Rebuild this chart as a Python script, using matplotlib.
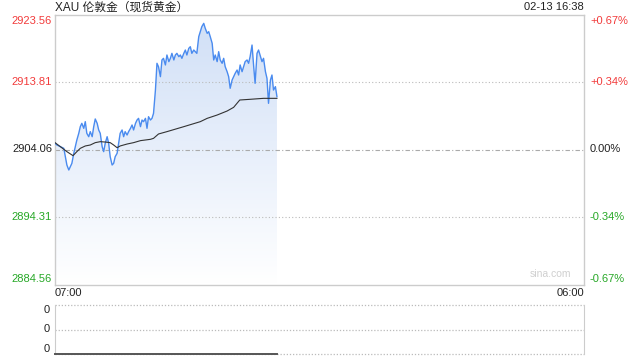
import matplotlib
matplotlib.use("Agg")
import matplotlib.pyplot as plt
import numpy as np
from matplotlib.patches import Polygon

plt.rcParams['font.family'] = ['Liberation Sans', 'Noto Sans CJK SC', 'DejaVu Sans']

# ---- data (minutes after 07:00) ----
price_min = [0, 5, 14, 23, 27, 31, 36, 40, 44, 49, 53, 57, 62, 66, 70, 75, 79, 83, 88, 92,
             97, 101, 105, 110, 114, 118, 123, 127, 131, 136, 140, 144, 149, 153, 157, 162,
             166, 170, 175, 179, 183, 188, 192, 197, 201, 205, 210, 214, 218, 223, 227, 231,
             236, 240, 244, 249, 253, 257, 262, 266, 270, 275, 279, 283, 288, 292, 297, 301,
             305, 310, 314, 318, 323, 327, 331, 336, 340, 344, 349, 353, 357, 362, 366, 370,
             375, 379, 383, 388, 392, 397, 401, 405, 410, 414, 418, 423, 427, 431, 436, 440,
             444, 449, 453, 457, 462, 466, 470, 475, 479, 483, 488, 492, 496, 501, 505, 509,
             514, 518, 522, 527, 531, 536, 540, 544, 549, 553, 557, 562, 566, 570, 575, 579]
price = [2904.95, 2904.71, 2904.47, 2904.23, 2903.02, 2901.82, 2901.10, 2901.58, 2902.06, 2903.51,
         2904.47, 2905.43, 2906.40, 2907.36, 2907.84, 2907.12, 2908.08, 2906.40, 2905.91, 2906.64,
         2905.91, 2907.36, 2908.47, 2907.84, 2906.88, 2906.40, 2904.47, 2903.75, 2904.95, 2905.91,
         2904.95, 2903.02, 2901.82, 2902.06, 2903.02, 2903.51, 2904.95, 2906.40, 2906.88, 2905.91,
         2906.64, 2906.15, 2906.64, 2907.12, 2907.60, 2906.88, 2907.84, 2908.32, 2908.56, 2907.36,
         2908.32, 2908.08, 2908.56, 2907.12, 2908.80, 2908.32, 2908.56, 2909.28, 2912.65, 2916.51,
         2916.02, 2914.58, 2916.99, 2917.23, 2916.27, 2917.71, 2916.75, 2917.23, 2917.95, 2916.99,
         2917.71, 2917.95, 2917.47, 2917.71, 2917.23, 2917.95, 2918.43, 2917.71, 2918.67, 2918.91,
         2917.95, 2918.43, 2918.19, 2917.95, 2920.36, 2921.08, 2921.80, 2922.28, 2921.56, 2920.84,
         2921.08, 2920.36, 2919.40, 2916.99, 2917.71, 2916.75, 2918.19, 2916.99, 2916.51, 2917.23,
         2916.02, 2915.30, 2914.58, 2912.90, 2914.10, 2914.58, 2915.06, 2915.54, 2914.82, 2916.27,
         2915.30, 2916.02, 2916.75, 2916.99, 2916.51, 2917.47, 2919.15, 2916.27, 2913.62, 2917.95,
         2918.43, 2917.47, 2916.75, 2917.23, 2915.30, 2914.34, 2910.73, 2914.10, 2914.82, 2912.65,
         2913.14, 2911.69]
avg_min = [0, 14, 31, 47, 57, 66, 79, 92, 105, 118, 131, 144, 153, 162, 170, 188, 205, 223,
           249, 257, 270, 292, 336, 379, 397, 423, 449, 466, 482, 509, 544, 579]
avg_price = [2905.05, 2904.47, 2903.75, 2903.17, 2903.75, 2904.23, 2904.57, 2904.71, 2905.05,
             2905.19, 2905.14, 2905.05, 2904.71, 2904.32, 2904.57, 2904.85, 2905.05, 2905.34,
             2905.53, 2905.67, 2906.30, 2906.64, 2907.36, 2908.08, 2908.56, 2909.04, 2909.62,
             2910.15, 2911.21, 2911.31, 2911.45, 2911.45]
volume = [0] * len(price_min)

prev_close = 2904.06
levels = [2923.56, 2913.81, 2904.06, 2894.31, 2884.56]
title = "XAU 伦敦金（现货黄金）"
stamp = "02-13 16:38"
x_labels = ["07:00", "06:00"]
session_len = 1380

RED = '#f23b3b'
GREEN = '#27a827'
GRAY = '#cccccc'
TXT = '#222222'

fig = plt.figure(figsize=(6.4, 3.6), dpi=100)
ax = fig.add_axes([55/640, 1-284.5/360, 529/640, 270/360])
ax.set_xlim(0, session_len)
ax.set_ylim(levels[-1], levels[0])
for s in ax.spines.values():
    s.set_color(GRAY)
    s.set_linewidth(1)
ax.set_xticks([]); ax.set_yticks([])

# gridlines
for lv in levels[1:-1]:
    if lv == prev_close:
        ax.axhline(lv, color='#aaaaaa', lw=0.8, ls=(0, (4, 2, 1, 2)), zorder=1)
    else:
        ax.axhline(lv, color='#bbbbbb', lw=0.8, ls=(0, (1, 2)), zorder=1)

# gradient fill under price line
xs = np.array(price_min); ys = np.array(price)
verts = [(xs[0], levels[-1])] + list(zip(xs, ys)) + [(xs[-1], levels[-1])]
poly = Polygon(verts, closed=True, facecolor='none', edgecolor='none')
ax.add_patch(poly)
grad = np.linspace(0, 1, 256).reshape(-1, 1)
top_c = np.array([0.82, 0.878, 0.968]); bot_c = np.array([1.0, 1.0, 1.0])
img = top_c[None, None, :] * (1 - grad[:, :, None]) + bot_c[None, None, :] * grad[:, :, None]
im = ax.imshow(img, extent=[xs[0], xs[-1], levels[-1], max(ys)], aspect='auto',
               origin='upper', zorder=0.5)
im.set_clip_path(poly)

ax.plot(price_min, price, color='#4a8bef', lw=1.0, zorder=3)
ax.plot(avg_min, avg_price, color='#333333', lw=0.8, zorder=4)

# left/right labels
for i, lv in enumerate(levels):
    pct = (lv - prev_close) / prev_close * 100
    if lv > prev_close:
        c = RED; pl = f"+{pct:.2f}%"
    elif lv < prev_close:
        c = GREEN; pl = f"{pct:.2f}%"
    else:
        c = TXT; pl = "0.00%"
    off = 0
    if i == 0:
        off = -6
    elif i == len(levels) - 1:
        off = 6
    ax.annotate(f"{lv:.2f}", (0, lv), xycoords=('axes fraction', 'data'),
                xytext=(-3, off), textcoords='offset pixels', ha='right', va='center',
                fontsize=8, color=c)
    ax.annotate(pl, (1, lv), xycoords=('axes fraction', 'data'),
                xytext=(6, off), textcoords='offset pixels', ha='left', va='center',
                fontsize=8, color=c)

fig.text(55/640, 1-7.5/360, title, ha='left', va='center', fontsize=8.5, color=TXT)
fig.text(584/640, 1-7.5/360, stamp, ha='right', va='center', fontsize=8, color=TXT)
fig.text(55/640, 1-293/360, x_labels[0], ha='left', va='center', fontsize=8, color=TXT)
fig.text(584/640, 1-293/360, x_labels[1], ha='right', va='center', fontsize=8, color=TXT)
ax.text(0.975, 0.02, "sina.com", transform=ax.transAxes, ha='right', va='bottom',
        fontsize=7.5, color='#cfcfcf')

# volume sub-panel
vx = fig.add_axes([55/640, 1-354/360, 529/640, 49/360])
vx.set_xlim(0, session_len)
vx.set_ylim(0, 2)
vx.set_xticks([]); vx.set_yticks([])
for k in ['top', 'bottom']:
    vx.spines[k].set_visible(False)
for k in ['left', 'right']:
    vx.spines[k].set_color(GRAY)
for yv in [0, 1, 2]:
    vx.axhline(yv, color='#bbbbbb', lw=0.9, ls=(0, (1, 1.5)), clip_on=False)
vx.plot(price_min, volume, color='#555555', lw=1.4, zorder=3, clip_on=False)
for yv in [2, 1, 0]:
    off = -5 if yv == 2 else (5 if yv == 0 else 0)
    vx.annotate("0", (0, yv), xycoords=('axes fraction', 'data'), xytext=(-5, off),
                textcoords='offset pixels', ha='right', va='center', fontsize=8, color=TXT)

fig.savefig("out.png", dpi=100)
